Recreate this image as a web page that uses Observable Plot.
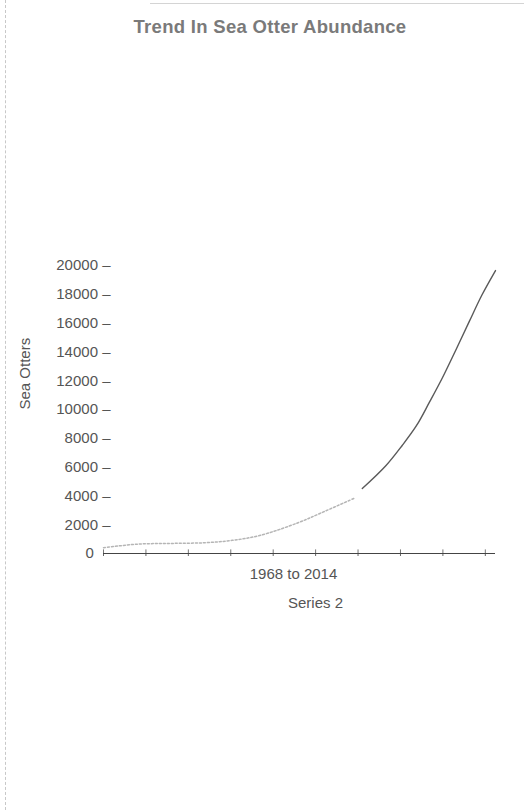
<!DOCTYPE html>
<html>
<head>
<meta charset="utf-8">
<script src="https://cdn.jsdelivr.net/npm/d3@7"></script>
<script src="https://cdn.jsdelivr.net/npm/@observablehq/plot@0.6"></script>
<style>
  html, body { margin: 0; padding: 0; background: #fff; }
  #page { position: relative; width: 524px; height: 810px; overflow: hidden;
          font-family: "Liberation Sans", Arial, sans-serif; }
  #edge { position: absolute; left: 5px; top: 0; height: 810px; border-left: 1px dashed #c8c8c8; }
  #topedge { position: absolute; left: 150px; top: 3px; width: 374px; border-top: 1px solid #d4d4d4; }
  #title { position: absolute; top: 16px; left: 0; width: 524px; padding-left: 16px; box-sizing: border-box;
           text-align: center; font-size: 18.5px; font-weight: bold; color: #7a7a7a; letter-spacing: 0.3px; }
  #chart { position: absolute; top: 0; left: 0; }
</style>
</head>
<body>
<div id="page">
  <div id="edge"></div>
  <div id="topedge"></div>
  <div id="title">Trend In Sea Otter Abundance</div>
  <div id="chart"></div>
</div>
<script>
// Data
const years  = [1968, 1972, 1976, 1980, 1983, 1986.4, 1991, 1993.5, 1997.5, 1998.5, 2001.3, 2003.2, 2004.9, 2006.4, 2007.9, 2009.5, 2011.1, 2012.6, 2014.2];
const otters = [400, 650, 700, 750, 900, 1250, 2150, 2780, 3820, 4510, 6110, 7500, 8890, 10490, 12150, 14100, 16100, 17950, 19650];
const yTicks = [0, 2000, 4000, 6000, 8000, 10000, 12000, 14000, 16000, 18000, 20000];
const xTicks = [1968, 1973, 1978, 1983, 1988, 1993, 1998, 2003, 2008, 2013];
const yLabel = "Sea Otters";
const xLabel = "1968 to 2014";
const seriesName = "Series 2";

const data = years.map((y, i) => ({year: y, value: otters[i]}));
const early = data.filter(d => d.year <= 1997.5);
const late = data.filter(d => d.year >= 1998.5);

const chart = Plot.plot({
  width: 524,
  height: 650,
  marginTop: 265,
  marginBottom: 97,
  marginLeft: 103,
  marginRight: 29,
  style: {fontFamily: "'Liberation Sans', Arial, sans-serif", fontSize: "15px", color: "#555", background: "transparent"},
  x: {domain: [1968, 2014.2]},
  y: {domain: [0, 20000]},
  marks: [
    Plot.axisY({ticks: yTicks, tickSize: 0, tickPadding: -7, label: null, tickFormat: d => d === 0 ? "0    " : `${d} –`, fill: "#555", fontSize: 15}),
    Plot.axisX({ticks: xTicks, tickSize: 3, tickFormat: () => "", label: null, stroke: "#666"}),
    Plot.ruleX(xTicks, {x: d => d, y1: 0, y2: 250, stroke: "#777", strokeWidth: 1}),
    Plot.ruleY([0], {stroke: "#444", strokeWidth: 1.2}),
    Plot.line(early, {x: "year", y: "value", stroke: "#b5b5b5", strokeWidth: 1.5, strokeDasharray: "2,2", curve: "catmull-rom"}),
    Plot.line(late, {x: "year", y: "value", stroke: "#5a5a5a", strokeWidth: 1.4, curve: "catmull-rom"}),
    Plot.text([yLabel], {frameAnchor: "left", rotate: -90, dx: -78, fill: "#555", fontSize: 15}),
    Plot.text([xLabel], {frameAnchor: "bottom", dy: 25, dx: -6, fill: "#555", fontSize: 15}),
    Plot.text([seriesName], {frameAnchor: "bottom", dy: 54, dx: 16, fill: "#555", fontSize: 15})
  ]
});
document.getElementById("chart").appendChild(chart);
</script>
</body>
</html>
